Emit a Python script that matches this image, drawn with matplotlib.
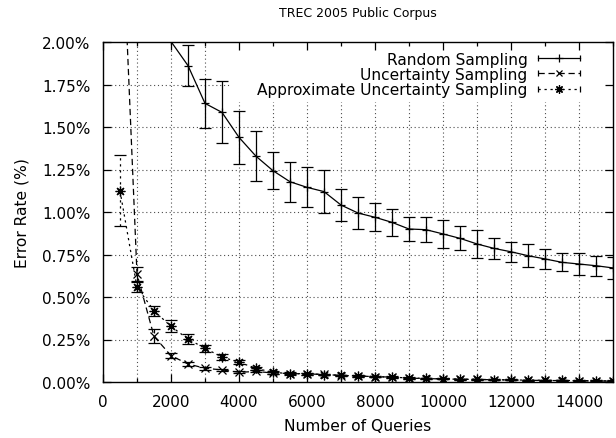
import matplotlib
matplotlib.use("Agg")
import matplotlib.pyplot as plt
import numpy as np
from matplotlib.lines import Line2D
from matplotlib.patches import Rectangle
from matplotlib.legend_handler import HandlerBase
from matplotlib.ticker import MultipleLocator, FuncFormatter

plt.rcParams['font.family'] = ['DejaVu Sans']

title = "TREC 2005 Public Corpus"
xlabel = "Number of Queries"
ylabel = "Error Rate (%)"
labels = ["Random Sampling", "Uncertainty Sampling", "Approximate Uncertainty Sampling"]

# Random sampling (values in %)
rand_x = [2000, 2500, 3000, 3500, 4000, 4500, 5000, 5500, 6000, 6500, 7000, 7500,
          8000, 8500, 9000, 9500, 10000, 10500, 11000, 11500, 12000, 12500, 13000,
          13500, 14000, 14500, 15000]
rand_y = [2.003, 1.861, 1.639, 1.586, 1.439, 1.328, 1.243, 1.178, 1.145, 1.120, 1.041, 0.994,
          0.969, 0.939, 0.900, 0.896, 0.871, 0.845, 0.812, 0.786, 0.766, 0.743, 0.724,
          0.704, 0.694, 0.684, 0.671]
rand_err = [0.0, 0.120, 0.142, 0.183, 0.154, 0.146, 0.108, 0.117, 0.118, 0.128, 0.093, 0.093,
            0.082, 0.078, 0.070, 0.073, 0.080, 0.070, 0.080, 0.062, 0.058, 0.068, 0.058,
            0.052, 0.064, 0.059, 0.065]

# Uncertainty sampling
unc_x = [500, 1000, 1500, 2000, 2500, 3000, 3500, 4000, 4500, 5000, 5500, 6000, 6500, 7000,
         7500, 8000, 8500, 9000, 9500, 10000, 10500, 11000, 11500, 12000, 12500, 13000,
         13500, 14000, 14500, 15000]
unc_y = [3.00, 0.635, 0.269, 0.155, 0.106, 0.081, 0.071, 0.057, 0.062, 0.053, 0.050, 0.047,
         0.045, 0.038, 0.036, 0.031, 0.029, 0.023, 0.020, 0.018, 0.016, 0.015, 0.013, 0.012,
         0.010, 0.009, 0.008, 0.007, 0.006, 0.005]
unc_err = [0.05, 0.040, 0.042, 0.015, 0.010, 0.008, 0.006, 0.006, 0.006, 0.005, 0.005, 0.005,
           0.005, 0.004, 0.004, 0.004, 0.004, 0.003, 0.003, 0.003, 0.003, 0.003, 0.003, 0.003,
           0.003, 0.003, 0.003, 0.003, 0.003, 0.003]

# Approximate uncertainty sampling
apx_x = unc_x
apx_y = [1.125, 0.557, 0.419, 0.327, 0.253, 0.198, 0.147, 0.116, 0.081, 0.056, 0.050, 0.048,
         0.044, 0.039, 0.035, 0.032, 0.028, 0.024, 0.021, 0.019, 0.017, 0.015, 0.014, 0.012,
         0.011, 0.010, 0.009, 0.008, 0.007, 0.006]
apx_err = [0.210, 0.030, 0.030, 0.035, 0.030, 0.020, 0.015, 0.012, 0.010, 0.008, 0.006, 0.006,
           0.005, 0.005, 0.005, 0.004, 0.004, 0.004, 0.004, 0.003, 0.003, 0.003, 0.003, 0.003,
           0.003, 0.003, 0.003, 0.003, 0.003, 0.003]

DASH = (0, (5, 3))
DOT = (0, (1.8, 3))
STAR = (8, 2, 0)
W, H = 616, 439
L, R, T, B = 103, 613, 43, 383

fig = plt.figure(figsize=(W / 100, H / 100), dpi=100)
ax = fig.add_axes([L / W, 1 - B / H, (R - L) / W, (B - T) / H])

lw = 0.9
e1 = ax.errorbar(rand_x, rand_y, yerr=rand_err, color='k', lw=lw, ls='-', marker='+',
                 ms=6, mew=0.9, capsize=4.5, capthick=0.9, elinewidth=0.9, zorder=3)
e2 = ax.errorbar(unc_x, unc_y, yerr=unc_err, color='k', lw=lw, ls=DASH, marker='x',
                 ms=6, mew=0.9, capsize=4.5, capthick=0.9, elinewidth=0.9, zorder=3)
e3 = ax.errorbar(apx_x, apx_y, yerr=apx_err, color='k', lw=lw, ls=DOT, marker=STAR,
                 ms=7, mew=0.9, capsize=4.5, capthick=0.9, elinewidth=0.9, zorder=3)
for c in e2[2]:
    c.set_linestyle(DASH)
for c in e3[2]:
    c.set_linestyle(DOT)

ax.set_xlim(0, 15000)
ax.set_ylim(0, 2.0)
ax.xaxis.set_major_locator(MultipleLocator(2000))
ax.xaxis.set_minor_locator(MultipleLocator(1000))
ax.yaxis.set_major_locator(MultipleLocator(0.25))
ax.yaxis.set_major_formatter(FuncFormatter(lambda v, p: f"{v:.2f}%"))
ax.tick_params(which='both', direction='in', top=True, right=True, labelsize=11, width=0.9)
ax.tick_params(axis='x', which='major', pad=9)
ax.tick_params(axis='y', which='major', pad=9)
ax.tick_params(which='major', length=6)
ax.tick_params(which='minor', length=3)

# grid lines at tick positions, drawn below everything
gstyle = dict(color='0.3', ls=(0, (1, 2.5)), lw=0.8, zorder=1)
for xv in ax.xaxis.get_minorticklocs():
    if 0 < xv < 15000:
        ax.axvline(xv, **gstyle)
for xv in ax.xaxis.get_majorticklocs():
    if 0 < xv < 15000:
        ax.axvline(xv, **gstyle)
for yv in ax.yaxis.get_majorticklocs():
    if 0 < yv < 2.0:
        ax.axhline(yv, **gstyle)

ax.xaxis.set_zorder(4)
ax.yaxis.set_zorder(4)
for s in ax.spines.values():
    s.set_linewidth(1.0)
    s.set_zorder(4)

ax.set_title(title, fontsize=9, pad=19)
ax.set_xlabel(xlabel, fontsize=11.2, labelpad=6)
ax.set_ylabel(ylabel, fontsize=11.2, labelpad=9)

# opaque key area (gnuplot style)
kx0 = (230 - L) / (R - L)
ky0 = (B - 103) / (B - T)
ax.add_patch(Rectangle((kx0, ky0), 1 - kx0, 1 - ky0, transform=ax.transAxes,
                       facecolor='white', edgecolor='none', zorder=3.5))


class GnuHandler(HandlerBase):
    def __init__(self, ls, marker, ms):
        super().__init__()
        self.ls, self.marker, self.ms = ls, marker, ms

    def create_artists(self, legend, orig_handle, xdescent, ydescent, width, height,
                       fontsize, trans):
        y = height / 2 - ydescent
        x0, x1 = -xdescent, width - xdescent
        line = Line2D([x0, x1], [y, y], ls=self.ls, color='k', lw=lw)
        caps = Line2D([x0, x1], [y, y], ls='none', marker='|', ms=5, mew=0.9, color='k')
        mk = Line2D([(x0 + x1) / 2], [y], ls='none', marker=self.marker, ms=self.ms,
                    mew=0.9, color='k')
        for a in (line, caps, mk):
            a.set_transform(trans)
        return [line, caps, mk]


h1 = Line2D([], [])
h2 = Line2D([], [])
h3 = Line2D([], [])
fs = 11.1
leg = ax.legend([h1, h2, h3], labels, loc='upper right', markerfirst=False,
                bbox_to_anchor=((580 - L) / (R - L), (B - 52.5) / (B - T)),
                handler_map={h1: GnuHandler('-', '+', 6),
                             h2: GnuHandler(DASH, 'x', 5),
                             h3: GnuHandler(DOT, STAR, 6)},
                fontsize=fs, handlelength=2.7, handletextpad=0.7, labelspacing=0.02,
                frameon=False, borderaxespad=0.0, borderpad=0.0)
leg.set_zorder(5)

fig.savefig("out.png", dpi=100)
